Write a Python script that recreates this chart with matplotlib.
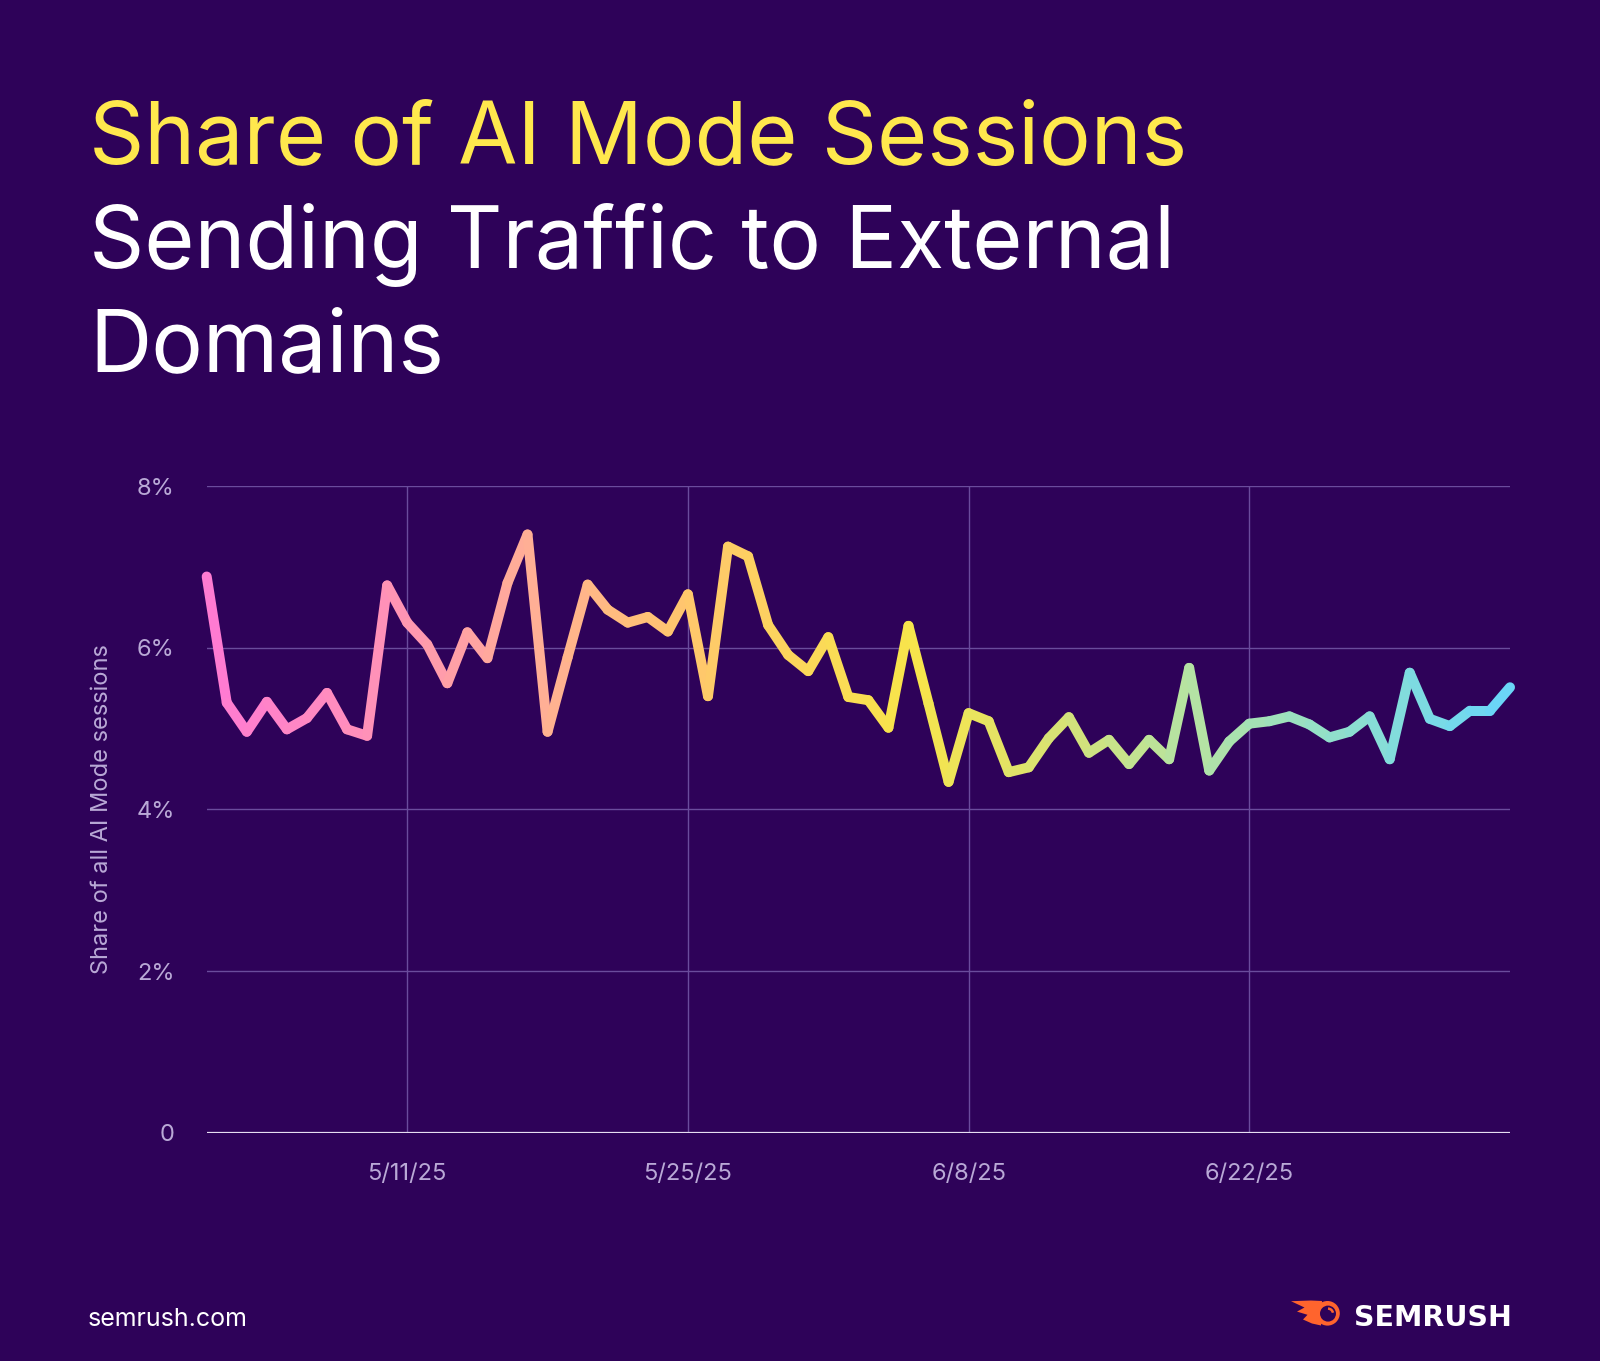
import matplotlib
matplotlib.use('Agg')
import matplotlib.pyplot as plt
import matplotlib.dates as mdates
from matplotlib.collections import LineCollection
from matplotlib.colors import LinearSegmentedColormap
from matplotlib.patches import Circle, Polygon, Arc
import numpy as np
import pandas as pd

# data: daily share of AI Mode sessions with an external click (%)
start_date = '2025-05-01'
share = [6.88, 5.32, 4.96, 5.33, 4.99, 5.13, 5.44, 4.99, 4.91, 6.77,
         6.31, 6.04, 5.56, 6.19, 5.87, 6.80, 7.40, 4.96, 5.88, 6.78,
         6.47, 6.31, 6.38, 6.20, 6.66, 5.40, 7.25, 7.13, 6.28, 5.91,
         5.71, 6.13, 5.39, 5.35, 5.01, 6.27, 5.31, 4.34, 5.19, 5.09,
         4.46, 4.52, 4.88, 5.14, 4.70, 4.86, 4.56, 4.86, 4.62, 5.75,
         4.48, 4.84, 5.06, 5.09, 5.15, 5.05, 4.89, 4.96, 5.15, 4.62,
         5.69, 5.12, 5.03, 5.22, 5.22, 5.51]
tick_dates = ['2025-05-11', '2025-05-25', '2025-06-08', '2025-06-22']
tick_labels = ['5/11/25', '5/25/25', '6/8/25', '6/22/25']
y_ticks = [0, 2, 4, 6, 8]
y_tick_labels = ['0', '2%', '4%', '6%', '8%']

BG = '#2e0259'
GRID = '#6a4c9c'
MUTED = '#b9a9d6'
YELLOW = '#ffe84d'
FONT = ['Inter', 'DejaVu Sans']

plt.rcParams['font.family'] = FONT

dates = pd.date_range(start_date, periods=len(share))
x = mdates.date2num(dates)
y = np.array(share)

W, H = 1600, 1361
fig = plt.figure(figsize=(W / 100, H / 100), dpi=100, facecolor=BG)

# titles
fig.text(89 / W, 1 - 164 / H, 'Share of AI Mode Sessions', color=YELLOW,
         fontsize=62, fontweight='normal', ha='left', va='baseline')
fig.text(89 / W, 1 - 268 / H, 'Sending Traffic to External', color='white',
         fontsize=62, fontweight='normal', ha='left', va='baseline')
fig.text(89 / W, 1 - 372 / H, 'Domains', color='white',
         fontsize=62, fontweight='normal', ha='left', va='baseline')

# chart
ax = fig.add_axes([206.7 / W, 1 - 1132.7 / H, (1510 - 206.7) / W, (1132.7 - 486) / H])
ax.set_facecolor(BG)
for s in ax.spines.values():
    s.set_visible(False)

cmap = LinearSegmentedColormap.from_list('semrush', [
    (0.00, '#ff7ad3'), (0.14, '#ff93b6'), (0.26, '#ffb192'), (0.37, '#ffc76c'),
    (0.54, '#f8e54a'), (0.66, '#d6e277'), (0.75, '#b7e3a0'), (0.88, '#8ddfcf'),
    (1.00, '#6ad6f8')])

pts = np.column_stack([x, y]).reshape(-1, 1, 2)
segs = np.concatenate([pts[:-1], pts[1:]], axis=1)
t = (np.arange(len(segs)) + 0.5) / len(segs)
lc = LineCollection(segs, colors=cmap(t), linewidths=7.2, capstyle='round',
                    joinstyle='round', zorder=3, clip_on=False)
ax.add_collection(lc)

ax.set_xlim(x[0], x[-1])
ax.set_ylim(0, 8)

tx = mdates.date2num(pd.to_datetime(tick_dates))
ax.set_xticks(tx)
ax.set_xticklabels(tick_labels)
ax.set_yticks(y_ticks)
ax.set_yticklabels(y_tick_labels)
ax.tick_params(axis='both', length=0, colors=MUTED, labelsize=17)
ax.tick_params(axis='x', pad=22)
ax.tick_params(axis='y', pad=23)

for v in y_ticks[1:]:
    ax.axhline(v, color=GRID, lw=1.0, zorder=1)
for v in tx:
    ax.axvline(v, color=GRID, lw=1.0, zorder=1)
ax.axhline(0, color='#e6def2', lw=1.6, zorder=2)

fig.text(102 / W, 1 - 809 / H, 'Share of all AI Mode sessions', color=MUTED,
         fontsize=17, rotation=90, ha='center', va='center')

# footer
fig.text(88 / W, 1 - 1326 / H, 'semrush.com', color='white', fontsize=18,
         ha='left', va='baseline')
fig.text(1512 / W, 1 - 1326 / H, 'SEMRUSH', color='white', fontsize=20.5,
         fontweight='bold', family='DejaVu Sans', ha='right', va='baseline')

# logo mark
lx0, lx1, ly0, ly1 = 1280, 1346, 1294, 1332
lax = fig.add_axes([lx0 / W, 1 - ly1 / H, (lx1 - lx0) / W, (ly1 - ly0) / H])
lax.set_xlim(lx0, lx1)
lax.set_ylim(ly1, ly0)
lax.axis('off')
orange = '#ff642d'
flame = [(1322, 1301), (1311, 1300.5), (1291, 1301.2), (1304.5, 1307.5),
         (1297, 1311.6), (1307.5, 1314.8), (1303, 1319.5), (1312, 1323.5),
         (1321, 1325.5)]
lax.add_patch(Polygon(flame, closed=True, color=orange, lw=0))
lax.add_patch(Circle((1327.5, 1313.3), 12.3, color=orange, lw=0))
lax.add_patch(Circle((1328, 1313.6), 8.0, color=BG, lw=0))
lax.add_patch(Arc((1328, 1313.6), 10, 10, theta1=-90, theta2=-10, color=orange, lw=1.8))

fig.savefig('out.png', dpi=100, facecolor=BG)
